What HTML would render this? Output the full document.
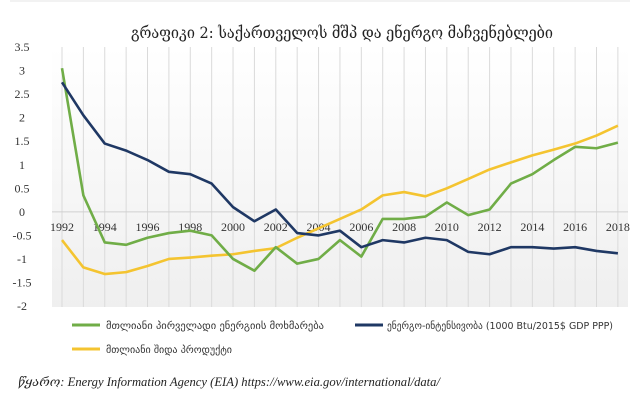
<!DOCTYPE html>
<html><head><meta charset="utf-8"><style>
body{margin:0;background:#fff;width:640px;height:401px;overflow:hidden}
</style></head><body>
<svg id="s" width="640" height="401" xmlns="http://www.w3.org/2000/svg" font-family="Liberation Sans,DejaVu Sans,sans-serif">
<defs><linearGradient id="g" x1="0" y1="0" x2="0" y2="1"><stop offset="0" stop-color="#fff"/><stop offset="1" stop-color="#efefef"/></linearGradient></defs>
<line x1="10" y1="1" x2="630" y2="1" stroke="#e4e4e4"/>
<rect x="52" y="47" width="576" height="260" fill="url(#g)"/>
<text x="131" y="38" font-size="16" fill="#222" textLength="422" lengthAdjust="spacingAndGlyphs" font-family="DejaVu Serif,DejaVu Sans,serif">გრაფიკი 2: საქართველოს მშპ და ენერგო მაჩვენებლები</text>
<g id="grid"></g><g id="lines"></g>
<line x1="72" y1="325" x2="100" y2="325" stroke="#70ad47" stroke-width="3"/>
<text x="106" y="329" font-size="10" fill="#333" textLength="218" lengthAdjust="spacingAndGlyphs" font-family="DejaVu Sans">მთლიანი პირველადი ენერგიის მოხმარება</text>
<line x1="355" y1="325" x2="383" y2="325" stroke="#1f3864" stroke-width="3"/>
<text x="387" y="329" font-size="10" fill="#333" textLength="226" lengthAdjust="spacingAndGlyphs" font-family="DejaVu Sans">ენერგო-ინტენსივობა (1000 Btu/2015$ GDP PPP)</text>
<line x1="72" y1="349" x2="100" y2="349" stroke="#f4c430" stroke-width="3"/>
<text x="106" y="353" font-size="10" fill="#333" textLength="126" lengthAdjust="spacingAndGlyphs" font-family="DejaVu Sans">მთლიანი შიდა პროდუქტი</text>
<text x="18" y="386" font-size="12.5" fill="#222" font-style="italic" textLength="422" lengthAdjust="spacingAndGlyphs" font-family="Liberation Serif,DejaVu Serif,serif">წყარო: Energy Information Agency (EIA) https://www.eia.gov/international/data/</text>
</svg>
<script>
const y=v=>47+(3.5-v)*47.1, x=i=>62+i*21.38;
let g='',L='';
for(let i=0;i<27;i++)g+=`<line x1="${x(i)}" y1="47" x2="${x(i)}" y2="307" stroke="#dadada"/>`;
g+=`<line x1="52" y1="${y(0)}" x2="628" y2="${y(0)}" stroke="#d0d0d0"/>`;
for(let k=0;k<12;k++){let v=3.5-k*0.5;g+=`<text x="22" y="${y(v)+4}" font-size="12" text-anchor="middle" fill="#333" font-family="Liberation Serif,serif">${v}</text>`}
for(let i=0;i<27;i+=2)g+=`<text x="${x(i)}" y="${y(0)+19}" font-size="12" text-anchor="middle" fill="#333" font-family="Liberation Serif,serif">${1992+i}</text>`;
const d={
"#70ad47":[3.05,0.35,-0.65,-0.7,-0.55,-0.45,-0.4,-0.5,-1.0,-1.25,-0.75,-1.1,-1.0,-0.6,-0.95,-0.15,-0.15,-0.1,0.2,-0.07,0.05,0.6,0.8,1.1,1.38,1.35,1.47],
"#1f3864":[2.75,2.05,1.45,1.3,1.1,0.85,0.8,0.6,0.1,-0.2,0.05,-0.45,-0.5,-0.4,-0.75,-0.6,-0.65,-0.55,-0.6,-0.85,-0.9,-0.75,-0.75,-0.78,-0.75,-0.83,-0.88],
"#f4c430":[-0.6,-1.18,-1.32,-1.28,-1.15,-1.0,-0.97,-0.93,-0.9,-0.83,-0.77,-0.55,-0.35,-0.15,0.05,0.35,0.42,0.33,0.5,0.7,0.9,1.05,1.2,1.32,1.45,1.62,1.83]};
for(const c of ["#f4c430","#70ad47","#1f3864"])L+=`<polyline fill="none" stroke="${c}" stroke-width="2.6" stroke-linejoin="round" points="${d[c].map((v,i)=>x(i)+','+y(v)).join(' ')}"/>`;
document.getElementById('grid').innerHTML=g;document.getElementById('lines').innerHTML=L;
</script>
</body></html>
